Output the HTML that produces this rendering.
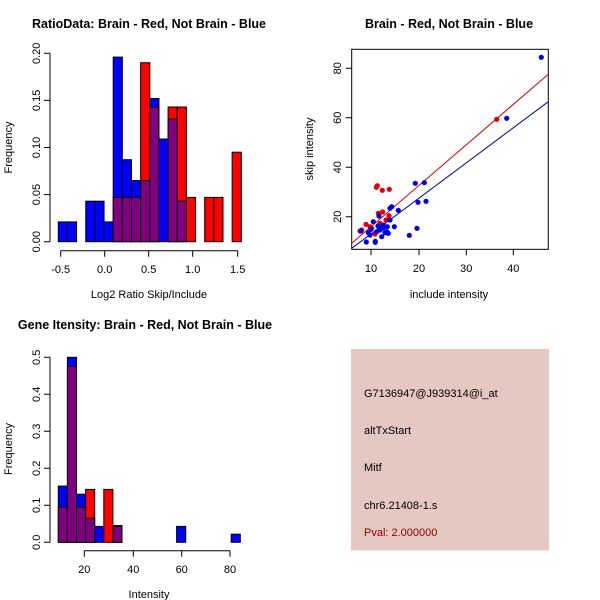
<!DOCTYPE html>
<html><head><style>body{margin:0;background:#fff}svg{display:block}text{font-family:"Liberation Sans",sans-serif;font-size:11px;fill:#000}.t{font-weight:bold;font-size:12.5px}</style></head><body>
<svg width="600" height="600" viewBox="0 0 600 600" xmlns="http://www.w3.org/2000/svg">
<rect width="600" height="600" fill="#fff"/>
<!-- Plot 1 -->
<text class="t" x="149" y="28" text-anchor="middle">RatioData: Brain - Red, Not Brain - Blue</text>
<g stroke="#000" stroke-width="1">
<g fill="#0000ff">
<rect x="58.3" y="221.9" width="9.15" height="19.8"/><rect x="67.45" y="221.9" width="9.15" height="19.8"/>
<rect x="85.75" y="201.2" width="9.15" height="40.5"/><rect x="94.9" y="201.2" width="9.15" height="40.5"/>
<rect x="104.05" y="221.9" width="9.15" height="19.8"/>
<rect x="113.2" y="57.1" width="9.15" height="184.6"/><rect x="122.35" y="159.7" width="9.15" height="82"/>
<rect x="131.5" y="180.5" width="9.15" height="61.2"/><rect x="149.8" y="98.5" width="9.15" height="143.2"/>
<rect x="158.95" y="139" width="9.15" height="102.7"/></g>
<g fill="#ff0000">
<rect x="140.65" y="62.7" width="9.15" height="179"/><rect x="168.1" y="107" width="9.15" height="134.7"/>
<rect x="177.25" y="107" width="9.15" height="134.7"/><rect x="186.4" y="197.4" width="9.15" height="44.3"/>
<rect x="204.7" y="197.4" width="9.15" height="44.3"/><rect x="213.85" y="197.4" width="9.15" height="44.3"/>
<rect x="232.15" y="152.2" width="9.15" height="89.5"/></g>
<g fill="#800080">
<rect x="113.2" y="197.4" width="9.15" height="44.3"/><rect x="122.35" y="197.4" width="9.15" height="44.3"/>
<rect x="131.5" y="197.4" width="9.15" height="44.3"/><rect x="140.65" y="180.5" width="9.15" height="61.2"/>
<rect x="149.8" y="107" width="9.15" height="134.7"/><rect x="168.1" y="119.2" width="9.15" height="122.5"/>
<rect x="177.25" y="201.2" width="9.15" height="40.5"/></g>
<path d="M50 53.3V241.7M50 241.7h-6M50 194.6h-6M50 147.5h-6M50 100.4h-6M50 53.3h-6" fill="none"/>
<path d="M60.7 250.7H237.7M60.7 250.7v6M104.7 250.7v6M148.7 250.7v6M192.7 250.7v6M237.7 250.7v6" fill="none"/>
</g>
<g text-anchor="middle">
<text transform="translate(40 241.7) rotate(-90)">0.00</text><text transform="translate(40 194.6) rotate(-90)">0.05</text>
<text transform="translate(40 147.5) rotate(-90)">0.10</text><text transform="translate(40 100.4) rotate(-90)">0.15</text>
<text transform="translate(40 53.3) rotate(-90)">0.20</text>
<text x="60.7" y="273">-0.5</text><text x="104.7" y="273">0.0</text><text x="148.7" y="273">0.5</text><text x="192.7" y="273">1.0</text><text x="237.7" y="273">1.5</text>
<text x="149" y="298">Log2 Ratio Skip/Include</text>
<text transform="translate(12 147.5) rotate(-90)">Frequency</text>
</g>
<!-- Plot 2 -->
<text class="t" x="449" y="28" text-anchor="middle">Brain - Red, Not Brain - Blue</text>
<rect x="351.7" y="49.3" width="196.6" height="200" fill="none" stroke="#000"/>
<line x1="351.7" y1="243.3" x2="548.3" y2="74.3" stroke="#cc0000"/>
<line x1="351.7" y1="248.3" x2="548.3" y2="101.7" stroke="#000099"/>
<g fill="#e00000">
<circle cx="360" cy="231" r="2.6"/><circle cx="361.7" cy="230" r="2.6"/><circle cx="366" cy="224.3" r="2.6"/><circle cx="377.3" cy="185.7" r="2.6"/><circle cx="376.3" cy="187.3" r="2.6"/><circle cx="382.3" cy="190.3" r="2.6"/><circle cx="389.3" cy="189.3" r="2.6"/><circle cx="378.3" cy="213.3" r="2.6"/><circle cx="382.7" cy="212" r="2.6"/><circle cx="389" cy="215.7" r="2.6"/><circle cx="370" cy="226.7" r="2.6"/><circle cx="375" cy="234" r="2.6"/><circle cx="380" cy="223.3" r="2.6"/><circle cx="371.7" cy="228.3" r="2.6"/><circle cx="386" cy="220" r="2.6"/><circle cx="496.7" cy="119.3" r="2.6"/></g>
<g fill="#0000e0">
<circle cx="361" cy="231" r="2.6"/><circle cx="366.3" cy="242" r="2.6"/><circle cx="371" cy="229.3" r="2.6"/><circle cx="375.3" cy="241.3" r="2.6"/><circle cx="375.3" cy="242.3" r="2.6"/><circle cx="370" cy="235" r="2.6"/><circle cx="373.3" cy="221.7" r="2.6"/><circle cx="379" cy="216" r="2.6"/><circle cx="381.7" cy="236.7" r="2.6"/><circle cx="385" cy="232.7" r="2.6"/><circle cx="387.3" cy="226.7" r="2.6"/><circle cx="390" cy="220" r="2.6"/><circle cx="391.7" cy="206.7" r="2.6"/><circle cx="390" cy="208.3" r="2.6"/><circle cx="398.3" cy="210.3" r="2.6"/><circle cx="394.3" cy="226.7" r="2.6"/><circle cx="415.3" cy="183.3" r="2.6"/><circle cx="424.3" cy="182.7" r="2.6"/><circle cx="418" cy="202.3" r="2.6"/><circle cx="426" cy="201.3" r="2.6"/><circle cx="409.3" cy="235.3" r="2.6"/><circle cx="417" cy="228.3" r="2.6"/><circle cx="506.7" cy="118.3" r="2.6"/><circle cx="541.3" cy="57.3" r="2.6"/><circle cx="380" cy="230" r="2.6"/><circle cx="383.3" cy="225" r="2.6"/><circle cx="386.7" cy="231.7" r="2.6"/><circle cx="376.7" cy="231.7" r="2.6"/><circle cx="368.3" cy="232.7" r="2.6"/><circle cx="388.3" cy="233.3" r="2.6"/><circle cx="383" cy="228" r="2.6"/><circle cx="378" cy="226" r="2.6"/></g>
<g stroke="#000"><path d="M351.7 216.7h-6M351.7 167.3h-6M351.7 117.7h-6M351.7 68.3h-6M371 249.3v6M419 249.3v6M466.3 249.3v6M513.3 249.3v6"/></g>
<g text-anchor="middle">
<text transform="translate(341 216.7) rotate(-90)">20</text><text transform="translate(341 167.3) rotate(-90)">40</text>
<text transform="translate(341 117.7) rotate(-90)">60</text><text transform="translate(341 68.3) rotate(-90)">80</text>
<text x="371" y="272">10</text><text x="419" y="272">20</text><text x="466.3" y="272">30</text><text x="513.3" y="272">40</text>
<text x="449" y="298">include intensity</text>
<text transform="translate(313 149) rotate(-90)">skip intensity</text>
</g>
<!-- Plot 3 -->
<text class="t" x="145" y="329" text-anchor="middle">Gene Itensity: Brain - Red, Not Brain - Blue</text>
<g stroke="#000">
<g fill="#0000ff">
<rect x="58.3" y="486.1" width="9.1" height="56.2"/><rect x="67.4" y="357.3" width="9.1" height="185"/>
<rect x="76.5" y="494.2" width="9.1" height="48.1"/><rect x="94.7" y="526.4" width="9.1" height="15.9"/>
<rect x="112.9" y="525.6" width="9.1" height="16.7"/><rect x="176.6" y="526.4" width="9.1" height="15.9"/>
<rect x="231.2" y="534.2" width="9.1" height="8.1"/></g>
<g fill="#ff0000"><rect x="85.6" y="489.4" width="9.1" height="52.9"/><rect x="103.8" y="489.4" width="9.1" height="52.9"/></g>
<g fill="#800080">
<rect x="58.3" y="507.1" width="9.1" height="35.2"/><rect x="67.4" y="366.2" width="9.1" height="176.1"/>
<rect x="76.5" y="507.1" width="9.1" height="35.2"/><rect x="85.6" y="518.3" width="9.1" height="24"/>
<rect x="112.9" y="526.4" width="9.1" height="15.9"/></g>
<path d="M50 357.3V542.3M50 542.3h-6M50 505.3h-6M50 468.3h-6M50 431.3h-6M50 394.3h-6M50 357.3h-6" fill="none"/>
<path d="M84.3 550.7H230M84.3 550.7v6M133.3 550.7v6M181.7 550.7v6M230 550.7v6" fill="none"/>
</g>
<g text-anchor="middle">
<text transform="translate(40 542.3) rotate(-90)">0.0</text><text transform="translate(40 505.3) rotate(-90)">0.1</text>
<text transform="translate(40 468.3) rotate(-90)">0.2</text><text transform="translate(40 431.3) rotate(-90)">0.3</text>
<text transform="translate(40 394.3) rotate(-90)">0.4</text><text transform="translate(40 357.3) rotate(-90)">0.5</text>
<text x="84.3" y="573">20</text><text x="133.3" y="573">40</text><text x="181.7" y="573">60</text><text x="230" y="573">80</text>
<text x="149" y="598">Intensity</text>
<text transform="translate(12 449) rotate(-90)">Frequency</text>
</g>
<!-- Panel 4 -->
<rect x="351" y="349" width="198" height="201.5" fill="#e6c8c2"/>
<text x="364" y="397">G7136947@J939314@i_at</text>
<text x="364" y="434">altTxStart</text>
<text x="364" y="471">Mitf</text>
<text x="364" y="509">chr6.21408-1.s</text>
<text x="364" y="536" style="fill:#8b0000">Pval: 2.000000</text>
</svg>
</body></html>
